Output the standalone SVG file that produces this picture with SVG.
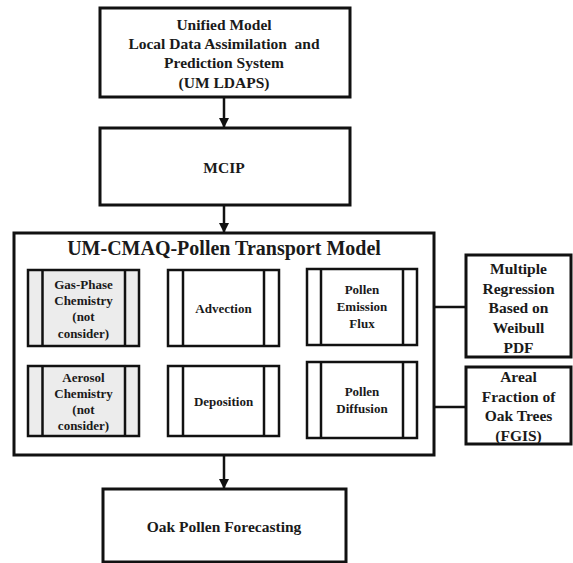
<svg xmlns="http://www.w3.org/2000/svg" width="573" height="563" viewBox="0 0 573 563">
<defs>
<marker id="ah" markerWidth="10" markerHeight="10" refX="9" refY="5" orient="auto" markerUnits="userSpaceOnUse">
<path d="M0,0 L10,5 L0,10 Z" fill="#111"/>
</marker>
</defs>
<style>
.box{fill:#fff;stroke:#111;stroke-width:3}
.sub{fill:#fff;stroke:#111;stroke-width:2.5}
.gray{fill:#ececec;stroke:#111;stroke-width:2.5}
.bar{stroke:#111;stroke-width:2.5}
.t{font-family:"Liberation Serif","Times New Roman","DejaVu Serif",serif;font-weight:bold;fill:#1a1a1a;text-anchor:middle}
.big{font-size:15.5px}
.sm{font-size:13px}
.ttl{font-size:20px}
.con{stroke:#111;stroke-width:2.5;fill:none}
</style>
<rect width="573" height="563" fill="#fff"/>
<g id="connectors">
<line class="con" x1="224" y1="97" x2="224" y2="127" marker-end="url(#ah)"/>
<line class="con" x1="224" y1="205" x2="224" y2="232" marker-end="url(#ah)"/>
<line class="con" x1="224" y1="455" x2="224" y2="488" marker-end="url(#ah)"/>
<line class="con" x1="466" y1="307" x2="418" y2="307" marker-end="url(#ah)"/>
<line class="con" x1="466" y1="407" x2="418" y2="407" marker-end="url(#ah)"/>
</g>
<g id="ldaps">
<rect class="box" x="100" y="8" width="250" height="89"/>
<text class="t big" x="224" y="30">Unified Model</text>
<text class="t big" x="224" y="49" xml:space="preserve">Local Data Assimilation  and</text>
<text class="t big" x="224" y="68">Prediction System</text>
<text class="t big" x="224" y="88">(UM LDAPS)</text>
</g>
<g id="mcip">
<rect class="box" x="100" y="128" width="250" height="77"/>
<text class="t big" x="224" y="173">MCIP</text>
</g>
<g id="cmaq">
<rect class="box" x="14" y="233" width="420" height="222"/>
<text class="t ttl" x="224" y="255">UM-CMAQ-Pollen Transport Model</text>
</g>
<g id="gasphase">
<rect class="gray" x="28" y="270" width="111" height="76"/>
<line class="bar" x1="42.5" y1="270" x2="42.5" y2="346"/>
<line class="bar" x1="125" y1="270" x2="125" y2="346"/>
<text class="t sm" x="83.5" y="289">Gas-Phase</text>
<text class="t sm" x="83.5" y="305">Chemistry</text>
<text class="t sm" x="83.5" y="321">(not</text>
<text class="t sm" x="83.5" y="338">consider)</text>
</g>
<g id="advection">
<rect class="sub" x="168" y="270" width="111" height="76"/>
<line class="bar" x1="183" y1="270" x2="183" y2="346"/>
<line class="bar" x1="264" y1="270" x2="264" y2="346"/>
<text class="t sm" x="223.5" y="313">Advection</text>
</g>
<g id="emission">
<rect class="sub" x="307" y="269" width="110" height="76"/>
<line class="bar" x1="321" y1="269" x2="321" y2="345"/>
<line class="bar" x1="403" y1="269" x2="403" y2="345"/>
<text class="t sm" x="362" y="294">Pollen</text>
<text class="t sm" x="362" y="311">Emission</text>
<text class="t sm" x="362" y="328">Flux</text>
</g>
<g id="aerosol">
<rect class="gray" x="28" y="366" width="111" height="70"/>
<line class="bar" x1="42.5" y1="366" x2="42.5" y2="436"/>
<line class="bar" x1="125" y1="366" x2="125" y2="436"/>
<text class="t sm" x="83.5" y="382">Aerosol</text>
<text class="t sm" x="83.5" y="398">Chemistry</text>
<text class="t sm" x="83.5" y="414">(not</text>
<text class="t sm" x="83.5" y="430">consider)</text>
</g>
<g id="deposition">
<rect class="sub" x="168" y="366" width="111" height="70"/>
<line class="bar" x1="183" y1="366" x2="183" y2="436"/>
<line class="bar" x1="264" y1="366" x2="264" y2="436"/>
<text class="t sm" x="223.5" y="406">Deposition</text>
</g>
<g id="diffusion">
<rect class="sub" x="307" y="362" width="110" height="76"/>
<line class="bar" x1="321" y1="362" x2="321" y2="438"/>
<line class="bar" x1="403" y1="362" x2="403" y2="438"/>
<text class="t sm" x="362" y="396">Pollen</text>
<text class="t sm" x="362" y="413">Diffusion</text>
</g>
<g id="regression">
<rect class="box" x="466" y="255" width="105" height="102"/>
<text class="t big" x="518.5" y="274">Multiple</text>
<text class="t big" x="518.5" y="294">Regression</text>
<text class="t big" x="518.5" y="313">Based on</text>
<text class="t big" x="518.5" y="333">Weibull</text>
<text class="t big" x="518.5" y="353">PDF</text>
</g>
<g id="areal">
<rect class="box" x="466" y="367" width="105" height="77"/>
<text class="t big" x="518.5" y="382">Areal</text>
<text class="t big" x="518.5" y="402">Fraction of</text>
<text class="t big" x="518.5" y="421">Oak Trees</text>
<text class="t big" x="518.5" y="441">(FGIS)</text>
</g>
<g id="forecast">
<rect class="box" x="103" y="489" width="243" height="73"/>
<text class="t big" x="224" y="532">Oak Pollen Forecasting</text>
</g>
</svg>
